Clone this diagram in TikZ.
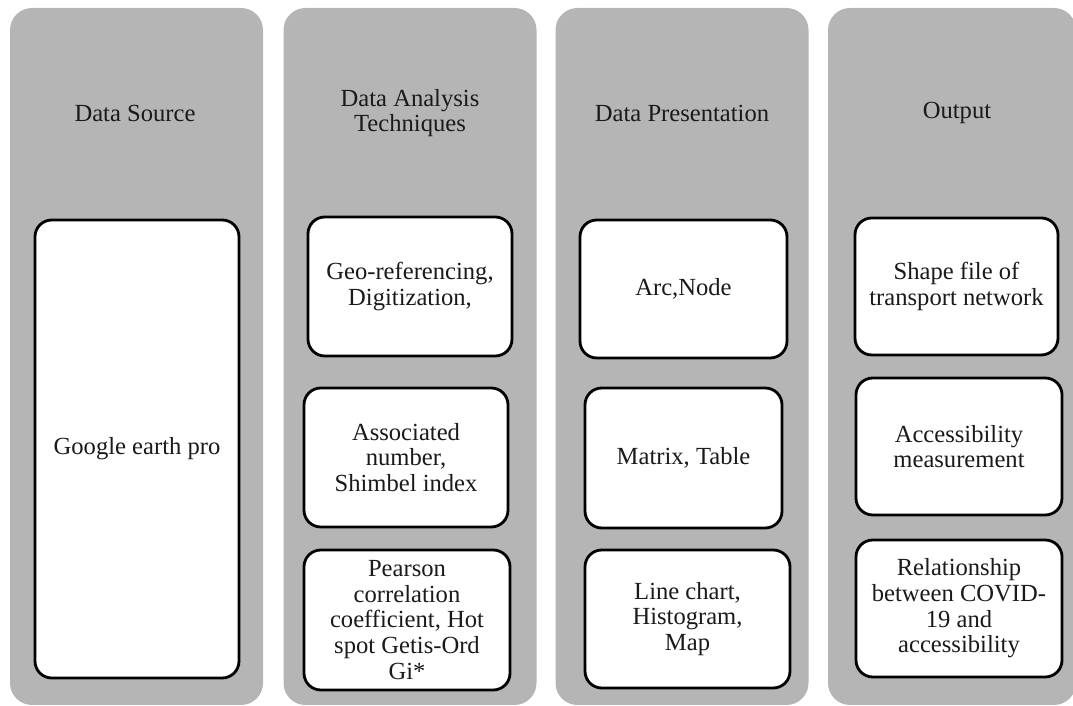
\documentclass[tikz,border=0pt]{standalone}
\usepackage{fontspec}
\setmainfont{Liberation Serif}
\usepackage{tikz}
\definecolor{panelgray}{RGB}{181,181,181}
\definecolor{textdark}{RGB}{26,26,26}

\begin{document}
\begin{tikzpicture}[
  panel/.style={rectangle, rounded corners=0.55cm, fill=panelgray,
                minimum width=6.325cm, minimum height=17.425cm},
  item/.style={rectangle, rounded corners=0.42cm, draw=black, fill=white,
               line width=2pt, align=center, text=textdark,
               font=\fontsize{17.5}{18.2}\selectfont},
  head/.style={align=center, text=textdark, font=\fontsize{17.5}{18.2}\selectfont}]

\useasboundingbox (0,0) rectangle (26.825,17.65);

% grey columns
\node[panel] (col1) at (3.4125,8.7375) {};
\node[panel] (col2) at (10.25,8.7375) {};
\node[panel] (col3) at (17.05,8.7375) {};
\node[panel, minimum width=6.2cm] (col4) at (23.8,8.7375) {};

% column headings
\node[head] (hsrc) at (3.375,14.825) {Data Source};
\node[head] (htech) at (10.25,14.825) {Data Analysis\\Techniques};
\node[head] (hpres) at (17.05,14.825) {Data Presentation};
\node[head] (hout) at (23.925,14.825) {Output};

% data source
\node[item, minimum width=5.1cm, minimum height=11.45cm] (src) at (3.425,6.425) {Google earth pro};

% analysis techniques
\node[item, minimum width=5.1cm, minimum height=3.475cm] (geo) at (10.25,10.4875) {Geo-referencing,\\Digitization,};
\node[item, minimum width=5.1cm, minimum height=3.475cm] (assoc) at (10.15,6.2125) {Associated\\number,\\Shimbel index};
\node[item, minimum width=5.15cm, minimum height=3.5cm] (pearson) at (10.175,2.15) {Pearson\\correlation\\coefficient, Hot\\spot Getis-Ord\\Gi*};

% presentation
\node[item, minimum width=5.175cm, minimum height=3.45cm] (arc) at (17.0875,10.425) {Arc,Node};
\node[item, minimum width=4.925cm, minimum height=3.5cm] (matrix) at (17.0875,6.2) {Matrix, Table};
\node[item, minimum width=5.125cm, minimum height=3.45cm] (chart) at (17.1875,2.175) {Line chart,\\Histogram,\\Map};

% output
\node[item, minimum width=5.075cm, minimum height=3.425cm] (shape) at (23.9125,10.4875) {Shape file of\\transport network};
\node[item, minimum width=5.15cm, minimum height=3.425cm] (access) at (23.975,6.4875) {Accessibility\\measurement};
\node[item, minimum width=5.15cm, minimum height=3.425cm] (relation) at (23.975,2.4375) {Relationship\\between COVID-\\19 and\\accessibility};

\end{tikzpicture}
\end{document}
